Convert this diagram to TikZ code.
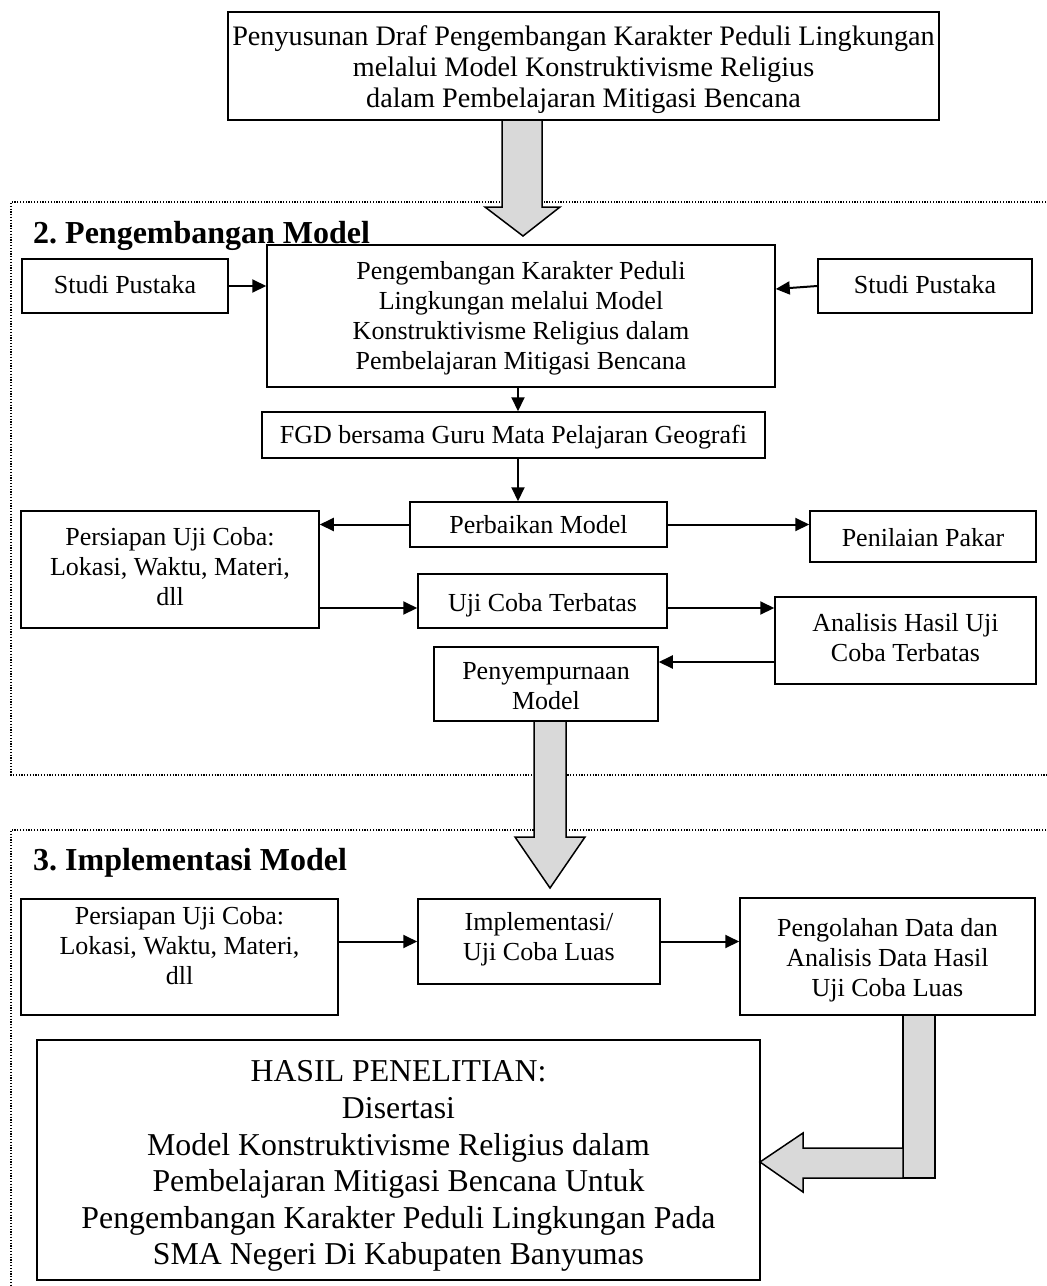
\documentclass[tikz,border=0pt]{standalone}
\usepackage{fontspec}
\setmainfont{Liberation Serif}
\usetikzlibrary{arrows.meta,calc}
\definecolor{arrowgray}{HTML}{D9D9D9}
\newcommand\boxtext[2][0pt]{\raisebox{-#1}[\height][\depth]{\begin{tabular}{@{}c@{}}#2\end{tabular}}}
\begin{document}
\frenchspacing
\begin{tikzpicture}[x=1pt,y=-1pt,
  box/.style={draw=black,line width=1.5pt,fill=white,inner sep=0pt,
    font=\fontsize{26}{30}\selectfont},
  topbox/.style={box,font=\fontsize{28.2}{31}\selectfont},
  bigbox/.style={box,font=\fontsize{31.8}{36.6}\selectfont},
  conn/.style={line width=2pt,-{Triangle[length=14pt,width=13pt]}},
  frame/.style={line width=1.1pt,dash pattern=on 1.2pt off 1.6pt},
  blockarrow/.style={draw=black,line width=1.5pt,fill=arrowgray,line join=miter},
  title/.style={anchor=base west,inner sep=0pt,font=\fontsize{32}{36}\selectfont\bfseries}]
\useasboundingbox[fill=white] (0,0) rectangle (1047,1286);

% dotted frames
\draw[frame] (1060,202) -- (11,202) -- (11,775) -- (1060,775);
\draw[frame] (1060,830) -- (11,830) -- (11,1300);

% top box
\node[topbox,minimum width=711pt,minimum height=108pt] (top) at (583.5,66)
  {\boxtext[4pt]{Penyusunan Draf Pengembangan Karakter Peduli Lingkungan\\
   melalui Model Konstruktivisme Religius\\
   dalam Pembelajaran Mitigasi Bencana}};

% block arrow 1
\draw[blockarrow] (502,120) -- (502,207) -- (485,207) -- (523,236) -- (560,207) -- (542,207) -- (542,120) -- cycle;

% section 2
\node[title] (t2) at (33,243) {2. Pengembangan Model};
\node[box,minimum width=508pt,minimum height=142pt] (main) at (521,316)
  {\boxtext[2.5pt]{Pengembangan Karakter Peduli\\ Lingkungan melalui Model\\ Konstruktivisme Religius dalam\\ Pembelajaran Mitigasi Bencana}};
\node[box,minimum width=206pt,minimum height=54pt] (lsp) at (125,286) {\boxtext[1pt]{Studi Pustaka}};
\node[box,minimum width=214pt,minimum height=54pt] (rsp) at (925,286) {\boxtext[1pt]{Studi Pustaka}};
\node[box,minimum width=503pt,minimum height=46pt] (fgd) at (513.5,435) {\boxtext[2pt]{FGD bersama Guru Mata Pelajaran Geografi}};
\node[box,minimum width=257pt,minimum height=45pt] (perb) at (538.5,524.5) {\boxtext[3pt]{Perbaikan Model}};
\node[box,minimum width=298pt,minimum height=117pt] (pers2) at (170,569.5) {\boxtext{Persiapan Uji Coba:\\ Lokasi, Waktu, Materi,\\ dll}};
\node[box,minimum width=226pt,minimum height=51pt] (pen) at (923,536.5) {\boxtext[4pt]{Penilaian Pakar}};
\node[box,minimum width=249pt,minimum height=54pt] (uji) at (542.5,601) {\boxtext[4pt]{Uji Coba Terbatas}};
\node[box,minimum width=261pt,minimum height=87pt] (anal) at (905.5,640.5) {\boxtext{Analisis Hasil Uji\\ Coba Terbatas}};
\node[box,minimum width=224pt,minimum height=74pt] (peny) at (546,684) {\boxtext[4pt]{Penyempurnaan\\ Model}};

\coordinate (v1) at (518,0);
\coordinate (h2) at (0,608);
\coordinate (h3) at (0,662);
\draw[conn] (lsp.east) -- (lsp.east -| main.west);
\draw[conn] (rsp.west) -- ($(rsp.west -| main.east)+(0,3)$);
\draw[conn] (main.south -| v1) -- (fgd.north -| v1);
\draw[conn] (fgd.south -| v1) -- (perb.north -| v1);
\draw[conn] (perb.west) -- (perb.west -| pers2.east);
\draw[conn] (perb.east) -- (perb.east -| pen.west);
\draw[conn] (pers2.east |- h2) -- (uji.west |- h2);
\draw[conn] (uji.east |- h2) -- (anal.west |- h2);
\draw[conn] (anal.west |- h3) -- (peny.east |- h3);

% block arrow 2
\draw[blockarrow] (534,721) -- (534,837) -- (515,837) -- (550,888) -- (585,837) -- (566,837) -- (566,721) -- cycle;

% section 3
\node[title] (t3) at (33,870) {3. Implementasi Model};
\node[box,minimum width=317pt,minimum height=116pt] (pers3) at (179.5,957) {\boxtext[-9pt]{Persiapan Uji Coba:\\ Lokasi, Waktu, Materi,\\ dll}};
\node[box,minimum width=242pt,minimum height=85pt] (impl) at (539,941.5) {\boxtext[-2pt]{Implementasi/\\ Uji Coba Luas}};
\node[box,minimum width=295pt,minimum height=117pt] (peng) at (887.5,956.5) {\boxtext[4pt]{Pengolahan Data dan\\ Analisis Data Hasil\\ Uji Coba Luas}};
\draw[conn] (impl.west -| pers3.east) -- (impl.west);
\draw[conn] (impl.east) -- (impl.east -| peng.west);

\node[bigbox,minimum width=723pt,minimum height=240pt] (hasil) at (398.5,1160)
  {\boxtext[6pt]{HASIL PENELITIAN:\\ Disertasi\\ Model Konstruktivisme Religius dalam\\ Pembelajaran Mitigasi Bencana Untuk\\ Pengembangan Karakter Peduli Lingkungan Pada\\ SMA Negeri Di Kabupaten Banyumas}};

% bent block arrow
\draw[blockarrow] (903,1015) rectangle (935,1178);
\draw[blockarrow] (903,1148) -- (803,1148) -- (803,1133) -- (760,1162) -- (803,1192) -- (803,1178) -- (903,1178) -- cycle;
\end{tikzpicture}
\end{document}
